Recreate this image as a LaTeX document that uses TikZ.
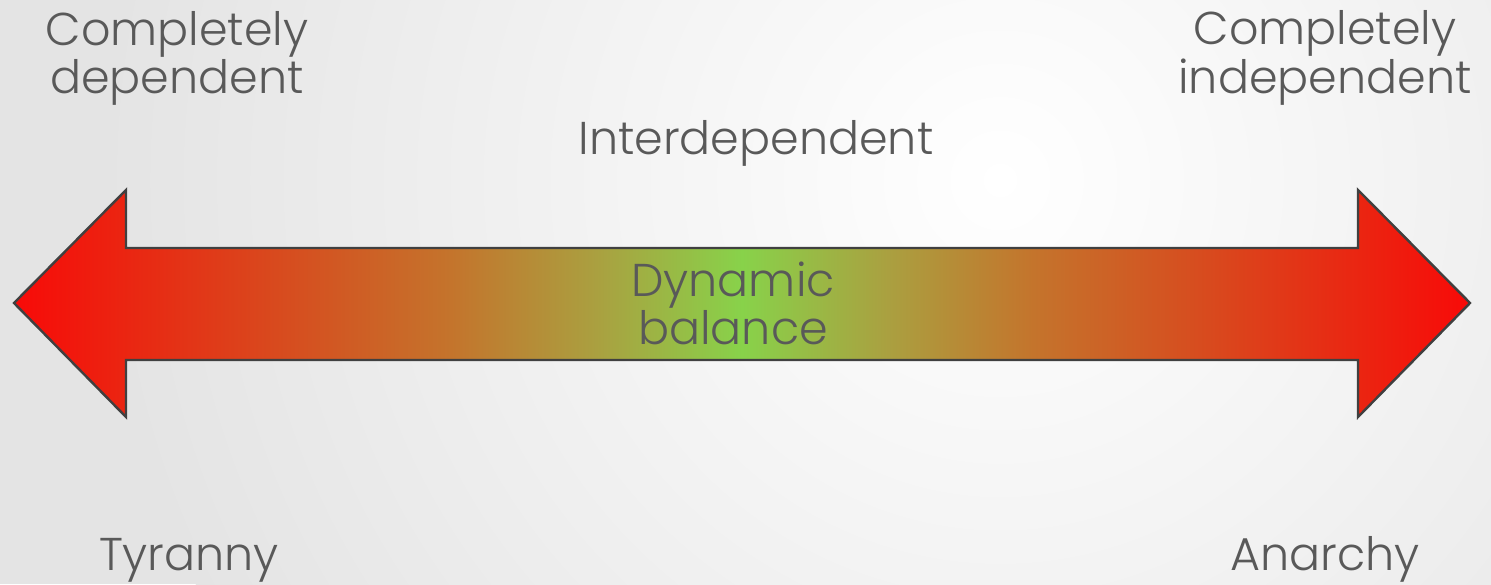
\documentclass[tikz,border=0pt]{standalone}
\usepackage{fontspec}
\setmainfont{Poppins}[UprightFont=* Light]
\usetikzlibrary{shadings}
\definecolor{txt}{HTML}{595959}
\definecolor{edge}{HTML}{404040}
\definecolor{cA}{HTML}{F80A08}
\definecolor{cB}{HTML}{D84A1E}
\definecolor{cC}{HTML}{C4742C}
\definecolor{cD}{HTML}{AAA040}
\definecolor{cE}{HTML}{88D24A}
\definecolor{bgout}{HTML}{E4E4E4}
\pgfdeclarehorizontalshading{arrowshade}{100bp}{color(0bp)=(cA); color(25bp)=(cA); color(34bp)=(cB); color(40bp)=(cC); color(45bp)=(cD); color(50bp)=(cE); color(55bp)=(cD); color(60bp)=(cC); color(66bp)=(cB); color(75bp)=(cA); color(100bp)=(cA)}
\tikzset{
  lbl/.style={text=txt, font=\fontsize{23}{22.5}\selectfont, align=center, inner sep=0pt},
  bigarrow/.style={draw=edge, line width=1.2pt, shading=arrowshade, line join=miter}
}
\begin{document}
\begin{tikzpicture}[x=0.5pt,y=-0.5pt]
\useasboundingbox (0,0) rectangle (1491,584);
\clip (0,0) rectangle (1491,584);
\fill[bgout] (0,0) rectangle (1491,584);
\shade[inner color=white, outer color=bgout] (1000,180) circle (900);
\path[bigarrow] (14,303) -- (126,190) -- (126,248) -- (1358,248) -- (1358,190) -- (1470,303) -- (1358,417) -- (1358,360) -- (126,360) -- (126,417) -- cycle;
\node[lbl] (cd) at (177,58) {Completely\\dependent};
\node[lbl] (ci) at (1325,58) {Completely\\independent};
\node[lbl] (inter) at (756,143) {Interdependent};
\node[lbl] (dyn) at (733,303) {Dynamic\\balance};
\node[lbl] (tyr) at (189,560) {Tyranny};
\node[lbl] (ana) at (1325,559) {Anarchy};
\end{tikzpicture}
\end{document}
